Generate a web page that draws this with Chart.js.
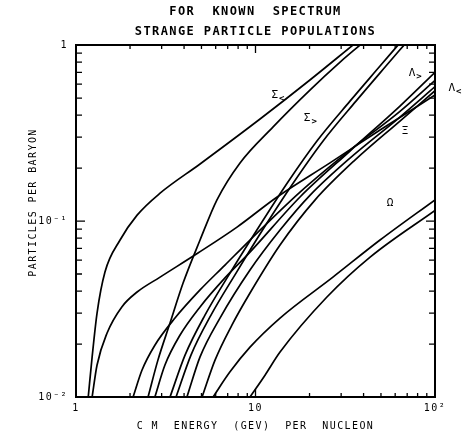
<!DOCTYPE html>
<html>
<head>
<meta charset="utf-8">
<script src="https://cdn.jsdelivr.net/npm/chart.js@4.4.1/dist/chart.umd.min.js"></script>
<style>
    html, body { margin: 0; padding: 0; background: #ffffff; }
    #wrap { width: 462px; height: 434px; }
</style>
</head>
<body>
<div id="wrap"><canvas id="populationChart"></canvas></div>
<script>

/* =========================
DATA  (CM energy per nucleon, particles per baryon)
========================= */

const sigmaLow = [[1.17, 0.01], [1.23, 0.0169], [1.31, 0.030], [1.45, 0.0513], [1.76, 0.078], [2.19, 0.108], [2.94, 0.144], [4.91, 0.211], [10.6, 0.38], [20.1, 0.633], [34.9, 1.0]];

const sigmaKink = [[1.23, 0.01], [1.31, 0.0152], [1.49, 0.0231], [1.80, 0.0325], [2.19, 0.0395], [2.94, 0.048], [4.78, 0.0658], [7.89, 0.0924], [13.2, 0.137], [26.0, 0.214], [49.4, 0.329], [100, 0.52]];

const sigmaHigh = [[2.52, 0.01], [2.86, 0.0162], [3.34, 0.0263], [3.95, 0.0444], [4.91, 0.078], [6.10, 0.132], [8.20, 0.214], [12.5, 0.342], [20.1, 0.555], [29.6, 0.80], [38.2, 1.0]];

const lambdaHighA = [[3.34, 0.01], [4.05, 0.0173], [5.23, 0.0292], [7.21, 0.0506], [10.6, 0.0949], [15.0, 0.164], [22.0, 0.285], [33.6, 0.48], [49.4, 0.76], [62.2, 1.0]];

const lambdaHighB = [[3.61, 0.01], [4.37, 0.0173], [5.65, 0.0292], [7.79, 0.0506], [11.4, 0.0949], [16.2, 0.164], [23.8, 0.285], [36.3, 0.48], [53.3, 0.76], [67.2, 1.0]];

const lambdaLowA = [[2.08, 0.01], [2.33, 0.0142], [2.75, 0.0197], [3.56, 0.0281], [4.91, 0.0406], [6.76, 0.0562], [9.32, 0.078], [17.7, 0.146], [33.6, 0.253], [63.8, 0.42], [100, 0.63]];

const lambdaLowB = [[2.75, 0.01], [3.13, 0.0152], [3.80, 0.0225], [4.91, 0.0325], [6.76, 0.0475], [9.32, 0.0666], [17.7, 0.137], [33.6, 0.25], [63.8, 0.45], [100, 0.70]];

const xiA = [[4.15, 0.01], [4.91, 0.0169], [6.34, 0.0281], [9.32, 0.0527], [13.7, 0.0889], [20.1, 0.14], [33.6, 0.228], [63.8, 0.39], [100, 0.58]];

const xiB = [[5.04, 0.01], [5.95, 0.0162], [7.40, 0.0257], [9.32, 0.039], [13.7, 0.0731], [21.5, 0.132], [35.8, 0.222], [63.8, 0.37], [100, 0.55]];

const omegaA = [[5.80, 0.01], [7.21, 0.0139], [9.32, 0.0192], [13.7, 0.0281], [27.0, 0.048], [49.4, 0.078], [100, 0.132]];

const omegaB = [[9.32, 0.01], [11.3, 0.0133], [13.7, 0.018], [25.0, 0.037], [43.5, 0.0624], [100, 0.115]];

const curves = [sigmaLow, sigmaKink, sigmaHigh, lambdaHighA, lambdaHighB, lambdaLowA, lambdaLowB, xiA, xiB, omegaA, omegaB];

/* =========================
AXES
========================= */

const energyTicks = [1, 10, 100];
const energyTickLabels = ["1", "10", "10²"];
const energyMarks = [2, 3, 4, 5, 6, 7, 8, 9, 10, 20, 30, 40, 50, 60, 70, 80, 90];

const yieldTicks = [0.01, 0.1, 1];
const yieldTickLabels = ["10⁻²", "10⁻¹", "1"];
const yieldMarks = [0.02, 0.03, 0.04, 0.05, 0.06, 0.07, 0.08, 0.09, 0.1, 0.2, 0.3, 0.4, 0.5, 0.6, 0.7, 0.8, 0.9];

/* curve names, anchored in data units */
const curveLabels = [
    { name: "Σ", sub: "<", x: 12.8, y: 0.52 },
    { name: "Σ", sub: ">", x: 19.4, y: 0.385 },
    { name: "Λ", sub: ">", x: 74.5, y: 0.693 },
    { name: "Λ", sub: "<", x: 124, y: 0.57 },
    { name: "Ξ", sub: "", x: 68.1, y: 0.325 },
    { name: "Ω", sub: "", x: 56.2, y: 0.1265 }
];

const FONT = "'DejaVu Sans Mono', monospace";

/* =========================
FRAME, INNER TICKS, LABELS
========================= */

const framePlugin = {

    id: "framePlugin",

    beforeDraw(chart) {
        chart.ctx.letterSpacing = "1.4px";
    },

    afterDraw(chart) {

        const { ctx, chartArea: a, scales: { x, y } } = chart;

        ctx.save();
        ctx.letterSpacing = "0px";
        ctx.strokeStyle = "#000";
        ctx.lineCap = "butt";

        // top and right edges
        ctx.lineWidth = 2;
        ctx.beginPath();
        ctx.moveTo(a.left - 1, a.top);
        ctx.lineTo(a.right, a.top);
        ctx.lineTo(a.right, a.bottom + 1);
        ctx.stroke();

        ctx.lineWidth = 1.3;
        ctx.beginPath();

        energyMarks.forEach(v => {
            const px = x.getPixelForValue(v);
            const len = v === 10 ? 8 : 4;
            ctx.moveTo(px, a.bottom);
            ctx.lineTo(px, a.bottom - len);
            ctx.moveTo(px, a.top);
            ctx.lineTo(px, a.top + len);
        });

        yieldMarks.forEach(v => {
            const py = y.getPixelForValue(v);
            const len = v === 0.1 ? 9 : 6;
            ctx.moveTo(a.left, py);
            ctx.lineTo(a.left + len, py);
            ctx.moveTo(a.right, py);
            ctx.lineTo(a.right - len, py);
        });

        ctx.stroke();

        // curve names
        ctx.fillStyle = "#000";
        ctx.textBaseline = "middle";
        ctx.textAlign = "center";

        curveLabels.forEach(l => {
            const px = x.getPixelForValue(l.x);
            const py = y.getPixelForValue(l.y);
            ctx.font = "11px " + FONT;
            ctx.fillText(l.name, px, py);
            if (l.sub) {
                ctx.font = "bold 9px " + FONT;
                ctx.fillText(l.sub, px + 7, py + 4);
            }
        });

        ctx.restore();

    }

};

/* =========================
CHART
========================= */

const ctx = document.getElementById("populationChart");

new Chart(ctx, {

    type: "line",

    data: {
        datasets: curves.map(c => ({
            data: c.map(([e, v]) => ({ x: e, y: v })),
            borderColor: "#000",
            borderWidth: 1.7,
            pointRadius: 0,
            cubicInterpolationMode: "monotone",
            fill: false
        }))
    },

    options: {

        responsive: true,
        maintainAspectRatio: false,
        animation: false,
        devicePixelRatio: 1,

        layout: {
            padding: { left: 0, right: 27, top: 0, bottom: 0 }
        },

        plugins: {

            legend: { display: false },

            tooltip: { enabled: false },

            title: {
                display: true,
                fullSize: false,
                text: ["FOR  KNOWN  SPECTRUM", "STRANGE PARTICLE POPULATIONS"],
                color: "#000",
                font: { family: FONT, size: 12, weight: "bold", lineHeight: 1.67 },
                padding: { top: 2, bottom: 3 }
            }

        },

        scales: {

            x: {
                type: "logarithmic",
                min: 1,
                max: 100,
                grid: { display: false, drawTicks: false },
                border: { display: true, color: "#000", width: 2 },
                afterBuildTicks: scale => {
                    scale.ticks = energyTicks.map(v => ({ value: v }));
                },
                afterFit: scale => {
                    scale.height = 37;
                },
                ticks: {
                    color: "#000",
                    padding: 5,
                    maxRotation: 0,
                    autoSkip: false,
                    font: { family: FONT, size: 10 },
                    callback: (value, index) => energyTickLabels[index]
                },
                title: {
                    display: true,
                    text: "C M  ENERGY  (GEV)  PER  NUCLEON",
                    color: "#000",
                    font: { family: FONT, size: 10, lineHeight: 1.2 },
                    padding: { top: 0, bottom: 2 }
                }
            },

            y: {
                type: "logarithmic",
                min: 0.01,
                max: 1,
                grid: { display: false, drawTicks: false },
                border: { display: true, color: "#000", width: 2 },
                afterBuildTicks: scale => {
                    scale.ticks = yieldTicks.map(v => ({ value: v }));
                },
                afterFit: scale => {
                    scale.width = 76;
                },
                ticks: {
                    color: "#000",
                    padding: 8,
                    autoSkip: false,
                    font: { family: FONT, size: 10 },
                    callback: (value, index) => yieldTickLabels[index]
                },
                title: {
                    display: true,
                    text: "     PARTICLES PER BARYON",
                    color: "#000",
                    font: { family: FONT, size: 10, lineHeight: 1.2 },
                    padding: { top: 27, bottom: 0 }
                }
            }

        }

    },

    plugins: [framePlugin]

});

</script>
</body>
</html>
